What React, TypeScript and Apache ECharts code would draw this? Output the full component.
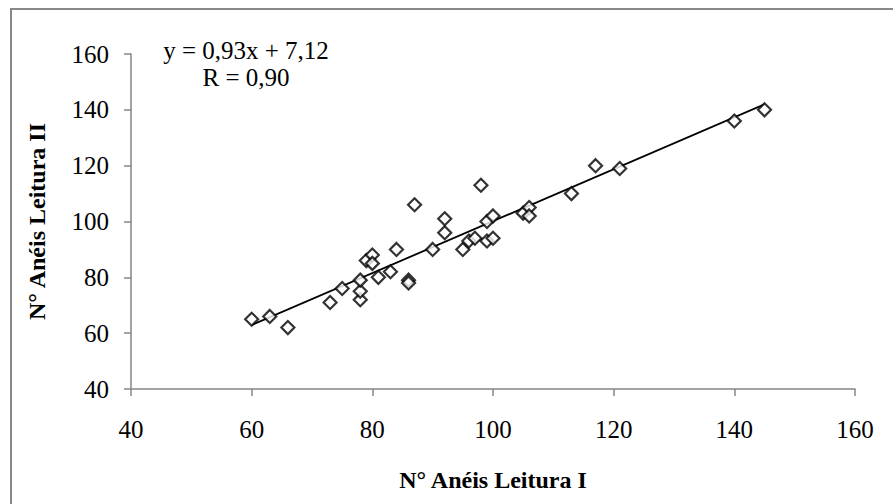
import React, { useEffect, useRef } from "react";
import * as echarts from "echarts";

const leituraI: number[] = [60, 63, 66, 73, 75, 78, 78, 78, 79, 80, 80, 81, 83, 84, 86, 86, 87, 90, 92, 92, 95, 96, 97, 98, 99, 100, 99, 100, 105, 106, 106, 113, 117, 121, 140, 145];
const leituraII: number[] = [65, 66, 62, 71, 76, 72, 75, 79, 86, 88, 85, 80, 82, 90, 79, 78, 106, 90, 101, 96, 90, 93, 94, 113, 100, 102, 93, 94, 103, 105, 102, 110, 120, 119, 136, 140];
const slope = 0.93;
const intercept = 7.12;
const equationText = "y = 0,93x + 7,12";
const rText = "R = 0,90";
const xTitle = "N° Anéis Leitura I";
const yTitle = "N° Anéis Leitura II";

const FONT = "'Liberation Serif', 'Times New Roman', serif";

export default function App() {
  const ref = useRef<HTMLDivElement>(null);
  useEffect(() => {
    document.body.style.margin = "0";
    if (!ref.current) return;
    const chart = echarts.init(ref.current, undefined, { renderer: "svg" });
    const points = leituraI.map((x, i) => [x, leituraII[i]]);
    const xMin = Math.min(...leituraI);
    const xMax = Math.max(...leituraI);
    const trend = [
      [xMin, slope * xMin + intercept],
      [xMax, slope * xMax + intercept],
    ];
    const axisCommon = {
      min: 40,
      max: 160,
      interval: 20,
      axisLine: { show: true, lineStyle: { color: "#868686", width: 1.5 } },
      axisTick: { show: true, inside: false, length: 7, lineStyle: { color: "#868686", width: 1.5 } },
      splitLine: { show: false },
      axisLabel: { color: "#000", fontFamily: FONT, fontSize: 25 },
      nameTextStyle: { color: "#000", fontFamily: FONT, fontSize: 24, fontWeight: "bold" },
    };
    chart.setOption({
      animation: false,
      backgroundColor: "#fff",
      grid: { left: 131, right: 38, top: 54, bottom: 115, containLabel: false },
      xAxis: {
        ...axisCommon,
        type: "value",
        name: xTitle,
        nameLocation: "middle",
        nameGap: 79,
        axisLabel: { ...axisCommon.axisLabel, margin: 28 },
      },
      yAxis: {
        ...axisCommon,
        type: "value",
        name: yTitle,
        nameLocation: "middle",
        nameGap: 82,
        axisLabel: { ...axisCommon.axisLabel, margin: 22 },
      },
      graphic: [
        {
          type: "rect",
          shape: { x: 11, y: 9, width: 950, height: 600 },
          style: { fill: "none", stroke: "#888888", lineWidth: 2 },
          silent: true,
        },
        {
          type: "text",
          x: 246,
          y: 37,
          style: {
            text: equationText + "\n" + rText,
            fontFamily: FONT,
            fontSize: 25,
            lineHeight: 27,
            fill: "#000",
            align: "center",
            verticalAlign: "top",
          },
        },
      ],
      series: [
        {
          type: "line",
          data: trend,
          symbol: "none",
          lineStyle: { color: "#000", width: 1.8 },
          z: 1,
        },
        {
          type: "scatter",
          data: points,
          symbol: "diamond",
          symbolSize: 13,
          itemStyle: { color: "#fff", borderColor: "#000", borderWidth: 2.2 },
          z: 2,
        },
      ],
    });
    return () => chart.dispose();
  }, []);
  return <div ref={ref} style={{ width: 893, height: 504 }} />;
}
